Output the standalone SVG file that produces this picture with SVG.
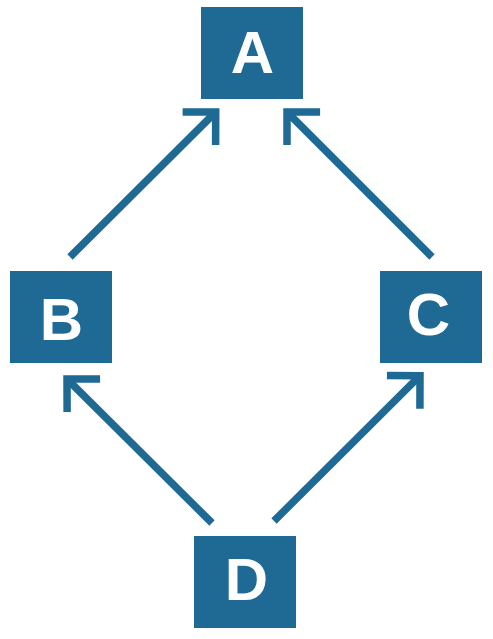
<svg xmlns="http://www.w3.org/2000/svg" width="493" height="639" viewBox="0 0 493 639">
<style>
.box{fill:#1f6a94}
.lbl{fill:#ffffff;font-family:"Liberation Sans",Arial,sans-serif;font-weight:bold;font-size:60px;text-anchor:middle}
.edge{stroke:#1f6a94;stroke-width:7.5;fill:none;marker-end:url(#chev)}
</style>
<defs>
<marker id="chev" markerUnits="userSpaceOnUse" orient="auto" refX="0" refY="0" markerWidth="60" markerHeight="60" viewBox="-40 -30 60 60" overflow="visible">
<path d="M-23.4,-23.4 L0,0 L-23.4,23.4" fill="none" stroke="#1f6a94" stroke-width="7.5" stroke-linejoin="miter" stroke-linecap="butt"/>
</marker>
</defs>
<rect width="493" height="639" fill="#ffffff"/>
<g id="connectors">
<path class="edge" d="M70,257 L215.7,112"/>
<path class="edge" d="M432,257 L287,112"/>
<path class="edge" d="M212,523 L67,379"/>
<path class="edge" d="M274,521 L420,375.7"/>
</g>
<g id="node-A">
<rect class="box" x="201" y="7" width="102" height="92"/>
<text class="lbl" x="252.5" y="72.7">A</text>
</g>
<g id="node-B">
<rect class="box" x="10" y="271" width="102" height="92"/>
<text class="lbl" x="61.3" y="340">B</text>
</g>
<g id="node-C">
<rect class="box" x="380" y="271" width="102" height="92"/>
<text class="lbl" x="428.3" y="335">C</text>
</g>
<g id="node-D">
<rect class="box" x="194" y="536" width="102" height="92"/>
<text class="lbl" x="246.3" y="600">D</text>
</g>
</svg>
